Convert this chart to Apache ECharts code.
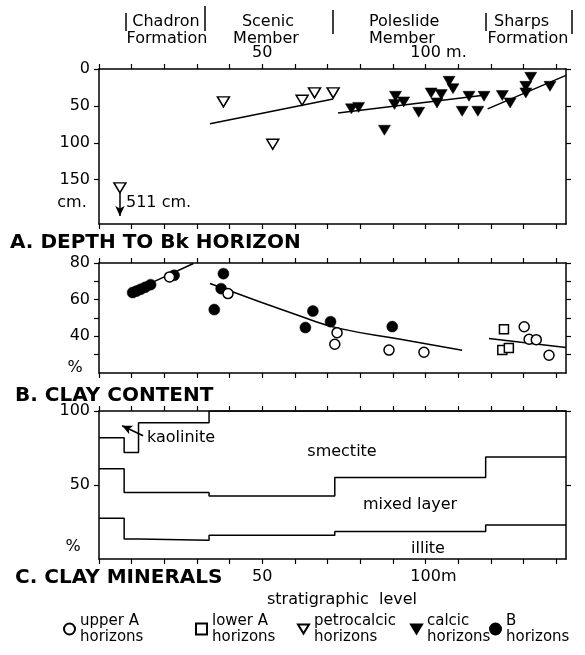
<!DOCTYPE html>
<html>
<head>
<meta charset="utf-8">
<title>Paleosol trends</title>
<script src="https://cdn.jsdelivr.net/npm/echarts@6/dist/echarts.min.js"></script>
<style>
  html, body { margin: 0; padding: 0; background: #fff; }
  #chart { width: 585px; height: 655px; }
</style>
</head>
<body>
<div id="chart"></div>
<script>
// x = stratigraphic level (m)

// A. depth to Bk horizon (cm)
const petrocalcic = [[6.4, 161], [38.1, 44.6], [53.2, 102], [62.2, 42.4], [66, 32.4], [71.7, 32.4]];
const calcic = [
  [77.3, 54], [79.5, 52], [87.4, 83], [90.8, 37], [90.5, 48], [93.3, 44.6], [97.9, 58.6],
  [101.7, 32.5], [104.8, 34.7], [103.5, 46], [107.2, 16.7], [108.4, 26.6], [111.2, 57.3],
  [113.3, 37], [116, 57.3], [117.9, 37], [123.5, 36], [125.9, 46], [130.7, 32.4],
  [130.7, 23.5], [132.2, 11.3], [138.1, 23.5]
];
const trendA1 = [[34, 74.3], [71.7, 40.5]];
const trendA2 = [[73.2, 59.5], [119, 35]];
const trendA3 = [[119, 54], [143, 8.6]];
const deepArrow = [[6.4, 167], [6.4, 199]];   // marker goes off scale, to 511 cm

// B. clay content (%)
const bHorizons = [
  [10.3, 63.9], [11.5, 64.7], [12.8, 65.7], [14.2, 66.8], [15.8, 68.2], [23, 73.3],
  [38.1, 74.2], [37.4, 66], [35.3, 54.6], [65.5, 53.8], [63.2, 44.8], [70.9, 48], [89.8, 45.3]
];
const upperA = [
  [21.6, 72.4], [39.5, 63.3], [72.9, 42], [72.2, 35.7], [88.8, 32.5], [99.5, 31.3],
  [130.2, 45.2], [131.7, 38.4], [133.9, 38.2], [137.8, 29.7]
];
const lowerA = [[124, 43.9], [123.5, 32.5], [125.5, 33.7]];
const trendB1 = [[17, 70], [28.9, 79.7]];
const trendB2 = [[34, 68.8], [63.7, 49.7], [73.9, 44.2], [92.3, 38.4], [111.2, 32.4]];
const trendB3 = [[119.4, 38.8], [143, 33.9]];

// C. clay minerals (cumulative %), step boundaries
const kaoliniteTop = [[0, 82], [7.7, 72], [12.1, 92], [33.7, 100], [143, 100]];
const smectiteBase = [[0, 61], [7.7, 45], [33.7, 42.5], [72.2, 55], [118.4, 69], [143, 69]];
const mixedBase = [[0, 27.5], [7.7, 13.5], [12.1, 12.7], [33.7, 16], [72.2, 18.5], [118.4, 23], [143, 23]];
const kaoliniteArrow = [[13.5, 83.3], [7.1, 90]];

// ticks / labels
const xTicks = [0, 10, 20, 30, 40, 50, 60, 70, 80, 90, 100, 110, 120, 130, 140];
const xLabels = [50, 100];
const depthTicks = [0, 50, 100, 150];
const clayTicks = [30, 40, 50, 60, 70, 80];
const clayLabels = [40, 60, 80];
const mineralTicks = [50, 100];

const FONT = '"DejaVu Sans", sans-serif';
const BLACK = '#000';

const chart = echarts.init(document.getElementById('chart'), null, { renderer: 'canvas' });

const grids = [
  { left: 99, top: 69, width: 467, height: 155 },
  { left: 99, top: 263, width: 467, height: 110 },
  { left: 99, top: 411, width: 467, height: 148 }
];

function xAx(grid, pos, labels, fmt, margin) {
  return {
    type: 'value', gridIndex: grid, position: pos, min: 0, max: 143,
    axisLine: { show: true, onZero: false, lineStyle: { color: BLACK, width: 1.5 } },
    axisTick: { show: true, length: 5, customValues: xTicks, lineStyle: { color: BLACK, width: 1.2 } },
    axisLabel: {
      show: !!labels, customValues: labels || [], margin: margin || 8,
      color: BLACK, fontFamily: FONT, fontSize: 16, formatter: fmt,
      rich: {
        h: { width: fmt && fmt.pad, fontSize: 16, fontFamily: FONT },
        t: { width: fmt && fmt.pad, fontSize: 16, fontFamily: FONT, color: BLACK }
      }
    },
    splitLine: { show: false }
  };
}

function yAx(grid, pos, min, max, ticks, labels, inverse) {
  return {
    type: 'value', gridIndex: grid, position: pos, min, max, inverse: !!inverse,
    axisLine: { show: true, onZero: false, lineStyle: { color: BLACK, width: 1.5 } },
    axisTick: { show: true, length: 5, customValues: ticks, lineStyle: { color: BLACK, width: 1.2 } },
    axisLabel: {
      show: !!labels, customValues: labels || [], margin: 9,
      color: BLACK, fontFamily: FONT, fontSize: 16
    },
    splitLine: { show: false }
  };
}

const topFmt = v => (v === 100 ? '{h| }100{t| m.}' : String(v));
topFmt.pad = 26;
const botFmt = v => (v === 100 ? '{h| }100{t|m}' : String(v));
botFmt.pad = 16;

const DOWN = 'path://M0,0L12,0L6,10Z';
const openStyle = { color: '#fff', borderColor: BLACK, borderWidth: 1.5, opacity: 1 };
const fillStyle = { color: BLACK, borderColor: BLACK, borderWidth: 0.5, opacity: 1 };

function trend(data, xi, smooth) {
  return {
    type: 'line', data, xAxisIndex: xi, yAxisIndex: xi, symbol: 'none', smooth: !!smooth,
    silent: true, z: 1, lineStyle: { color: BLACK, width: 1.5 }
  };
}
function step(data, extra) {
  return Object.assign({
    type: 'line', data, xAxisIndex: 4, yAxisIndex: 4, step: 'end', symbol: 'none',
    silent: true, lineStyle: { color: BLACK, width: 1.5 }
  }, extra || {});
}
function arrowLine(pts) {
  return {
    silent: true, symbol: ['none', 'arrow'], symbolSize: [7, 10],
    label: { show: false }, lineStyle: { color: BLACK, width: 1.5, type: 'solid', opacity: 1 },
    data: [[{ coord: pts[0] }, { coord: pts[1] }]]
  };
}

function lg(name, left) {
  return {
    data: [name], left, top: 613, padding: 0, itemWidth: 11, itemHeight: 11,
    selectedMode: false,
    formatter: n => n.replace(' horizons', '\nhorizons'),
    textStyle: { fontFamily: FONT, fontSize: 15, lineHeight: 16, color: BLACK }
  };
}

function txt(text, x, y, size, align, weight) {
  return {
    type: 'text', x, y, silent: true,
    style: {
      text, fill: BLACK,
      font: (weight || 'normal') + ' ' + size + 'px "DejaVu Sans", sans-serif',
      textAlign: align || 'center', textVerticalAlign: 'middle'
    }
  };
}
function bar(x, y1, y2) {
  return { type: 'line', silent: true, shape: { x1: x, y1, x2: x, y2 }, style: { stroke: BLACK, lineWidth: 1.5 } };
}

chart.setOption({
  animation: false,
  backgroundColor: '#fff',
  textStyle: { fontFamily: FONT, color: BLACK },
  grid: grids,
  xAxis: [
    xAx(0, 'top', xLabels, topFmt, 8), xAx(0, 'bottom'),
    xAx(1, 'top'), xAx(1, 'bottom'),
    xAx(2, 'top'), xAx(2, 'bottom', xLabels, botFmt, 10)
  ],
  yAxis: [
    yAx(0, 'left', 0, 210, depthTicks, depthTicks, true), yAx(0, 'right', 0, 210, depthTicks, null, true),
    yAx(1, 'left', 20, 80, clayTicks, clayLabels), yAx(1, 'right', 20, 80, clayTicks),
    yAx(2, 'left', 0, 100, mineralTicks, mineralTicks), yAx(2, 'right', 0, 100, mineralTicks)
  ],
  legend: [
    lg('upper A horizons', 63),
    lg('lower A horizons', 195),
    lg('petrocalcic horizons', 297),
    lg('calcic horizons', 410),
    lg('B horizons', 489)
  ],
  series: [
    trend(trendA1, 0), trend(trendA2, 0), trend(trendA3, 0),
    {
      name: 'petrocalcic horizons', type: 'scatter', data: petrocalcic, xAxisIndex: 0, yAxisIndex: 0,
      symbol: DOWN, symbolSize: [12, 10], itemStyle: openStyle, z: 3,
      markLine: arrowLine(deepArrow)
    },
    {
      name: 'calcic horizons', type: 'scatter', data: calcic, xAxisIndex: 0, yAxisIndex: 0,
      symbol: DOWN, symbolSize: [12, 10], itemStyle: fillStyle, z: 3
    },
    trend(trendB1, 2), trend(trendB2, 2, 0.3), trend(trendB3, 2),
    {
      name: 'B horizons', type: 'scatter', data: bHorizons, xAxisIndex: 2, yAxisIndex: 2,
      symbol: 'circle', symbolSize: 11, itemStyle: fillStyle, z: 3
    },
    {
      name: 'upper A horizons', type: 'scatter', data: upperA, xAxisIndex: 2, yAxisIndex: 2,
      symbol: 'circle', symbolSize: 10, itemStyle: openStyle, z: 4
    },
    {
      name: 'lower A horizons', type: 'scatter', data: lowerA, xAxisIndex: 2, yAxisIndex: 2,
      symbol: 'rect', symbolSize: 9, itemStyle: openStyle, z: 4
    },
    step(kaoliniteTop, { markLine: arrowLine(kaoliniteArrow) }),
    step(smectiteBase),
    step(mixedBase)
  ],
  graphic: [
    txt('Chadron', 166, 22, 16), txt('Formation', 167, 39, 16),
    txt('Scenic', 268, 22, 16), txt('Member', 266, 39, 16),
    txt('Poleslide', 369, 22, 16, 'left'), txt('Member', 369, 39, 16, 'left'),
    txt('Sharps', 494, 22, 16, 'left'), txt('Formation', 528, 39, 16),
    bar(126, 13, 31), bar(205, 6, 31), bar(333, 10, 34), bar(486, 13, 31), bar(572, 10, 34),
    txt('A. DEPTH TO Bk HORIZON', 10, 243, 20, 'left', 'bold'),
    txt('B. CLAY CONTENT', 15, 396, 20, 'left', 'bold'),
    txt('C. CLAY MINERALS', 15, 578, 20, 'left', 'bold'),
    txt('cm.', 72, 203, 16), txt('511 cm.', 126, 203, 16, 'left'),
    txt('%', 75, 368, 16), txt('%', 73, 547, 16),
    txt('kaolinite', 147, 438, 16, 'left'),
    txt('smectite', 342, 452, 16),
    txt('mixed layer', 410, 505, 16),
    txt('illite', 428, 549, 16),
    txt('stratigraphic  level', 342, 600, 16)
  ]
});
</script>
</body>
</html>
